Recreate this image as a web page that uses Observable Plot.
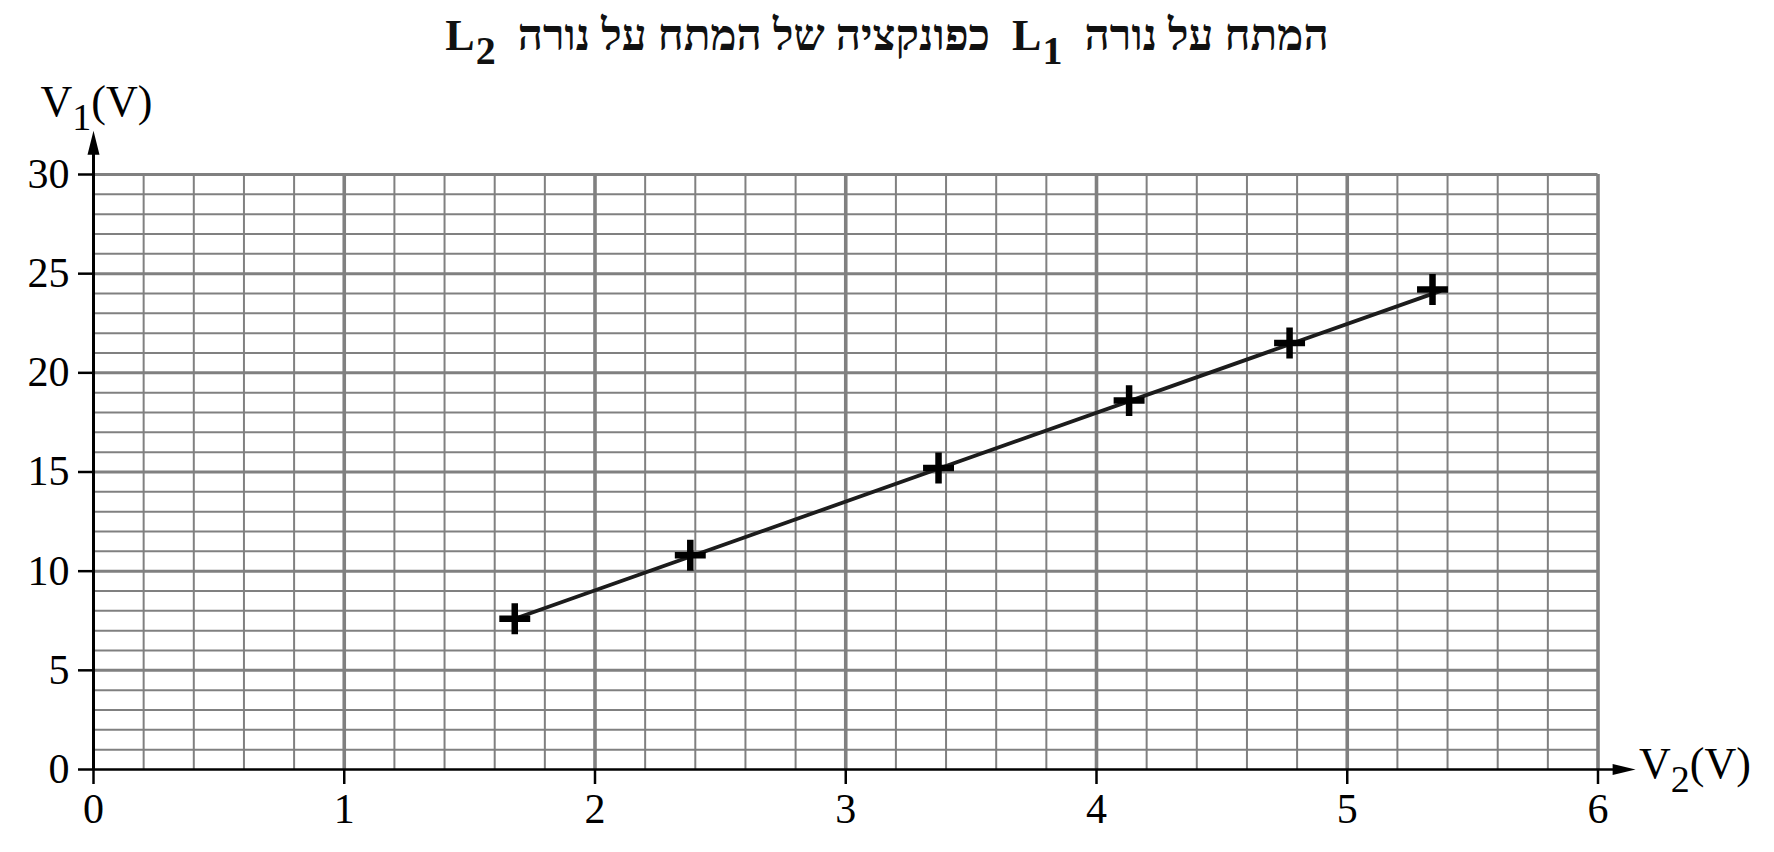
<!DOCTYPE html>
<html>
<head>
<meta charset="utf-8">
<script src="https://cdn.jsdelivr.net/npm/d3@7"></script>
<script src="https://cdn.jsdelivr.net/npm/@observablehq/plot@0.6"></script>
<style>
  html, body { margin: 0; padding: 0; background: #fff; overflow: hidden; }
  #title {
    position: relative; height: 70px; width: 1774px;
    font-family: "Liberation Serif", "DejaVu Serif", serif; font-weight: bold; font-size: 44px;
    color: #111;
  }
  #title div { position: absolute; top: 14px; left: 0; width: 1774px; text-align: center; line-height: 44px; white-space: nowrap; }
  #title .ltr { unicode-bidi: isolate; direction: ltr; }
  #title .sub { display: inline-block; vertical-align: -14px; font-size: 40px; line-height: 40px; margin-left: 1px; }
  #chart svg { display: block; }
</style>
</head>
<body>
<div id="title"><div dir="rtl">המתח על נורה&nbsp; <span class="ltr" dir="ltr">L<span class="sub">1</span></span>&nbsp;&nbsp;כפונקציה של המתח על נורה&nbsp; <span class="ltr" dir="ltr">L<span class="sub">2</span></span></div></div>
<div id="chart"></div>
<script>
// Measured values: voltage on lamp L2 (x) and on lamp L1 (y)
const v2 = [1.68, 2.38, 3.37, 4.13, 4.77, 5.34];
const v1 = [7.6, 10.8, 15.2, 18.6, 21.5, 24.2];
// Drawn best-fit line end points
const fitV2 = [1.68, 5.37];
const fitV1 = [7.6, 24.12];
// Axis ticks
const xTicks = [0, 1, 2, 3, 4, 5, 6];
const yTicks = [0, 5, 10, 15, 20, 25, 30];
const xMinorStep = 0.2;
const yMinorStep = 1;
const xArrowTip = 6.15;
const yArrowTip = 32.2;
const xLabel = "V2(V)";
const yLabel = "V1(V)";

const points = v2.map((x, i) => ({v2: x, v1: v1[i]}));
const fit = fitV2.map((x, i) => ({v2: x, v1: fitV1[i]}));
const xMinor = d3.range(0, 6 + 1e-9, xMinorStep).filter(d => Math.abs(d - Math.round(d)) > 1e-6);
const yMinor = d3.range(0, 30 + 1e-9, yMinorStep).filter(d => d % 5 !== 0);
const xMajor = xTicks.filter(d => d > 0);
const yMajor = yTicks.filter(d => d > 0);

const arrowUp = { draw(ctx) { ctx.moveTo(0, 0); ctx.lineTo(6, 24); ctx.lineTo(-6, 24); ctx.closePath(); } };
const arrowRight = { draw(ctx) { ctx.moveTo(0, 0); ctx.lineTo(-23, 5.5); ctx.lineTo(-23, -5.5); ctx.closePath(); } };

const grid = "#808080";
const chart = Plot.plot({
  width: 1774, height: 782,
  marginLeft: 93, marginRight: 176.5, marginTop: 104, marginBottom: 83,
  x: {domain: [0, 6]},
  y: {domain: [0, 30]},
  style: {fontFamily: "'Liberation Serif', 'DejaVu Serif', serif", background: "white", color: "black"},
  marks: [
    Plot.ruleX(xMinor, {y1: 0, y2: 30, stroke: grid, strokeWidth: 2}),
    Plot.ruleY(yMinor, {x1: 0, x2: 6, stroke: grid, strokeWidth: 2}),
    Plot.ruleX(xMajor, {y1: 0, y2: 30, stroke: grid, strokeWidth: 3.6}),
    Plot.ruleY(yMajor, {x1: 0, x2: 6, stroke: grid, strokeWidth: 3}),
    Plot.ruleX([0], {y1: 0, y2: yArrowTip - 1, stroke: "black", strokeWidth: 3}),
    Plot.ruleY([0], {x1: 0, x2: xArrowTip - 0.05, stroke: "black", strokeWidth: 2.6}),
    Plot.dot([{x: 0, y: yArrowTip}], {x: "x", y: "y", symbol: arrowUp, fill: "black", stroke: null}),
    Plot.dot([{x: xArrowTip, y: 0}], {x: "x", y: "y", symbol: arrowRight, fill: "black", stroke: null}),
    Plot.axisX({ticks: xTicks, tickFormat: d3.format("d"), tickSize: 15, tickPadding: 9, fontSize: 42, stroke: "black", strokeWidth: 2.5, label: null}),
    Plot.axisY({ticks: yTicks, tickFormat: d3.format("d"), tickSize: 15, tickPadding: 9, fontSize: 42, stroke: "black", strokeWidth: 2.5, label: null}),
    Plot.line(fit, {x: "v2", y: "v1", stroke: "#1c1c1c", strokeWidth: 3.8}),
    Plot.dot(points, {x: "v2", y: "v1", symbol: "plus", r: 10, stroke: "black", strokeWidth: 6.5}),
    Plot.text([yLabel], {frameAnchor: "top-left", text: d => d, textAnchor: "start", lineAnchor: "bottom", dx: -53, dy: -59, fontSize: 44}),
    Plot.text([xLabel], {frameAnchor: "bottom-right", text: d => d, textAnchor: "start", lineAnchor: "bottom", dx: 41, dy: 8, fontSize: 44})
  ]
});
document.getElementById("chart").appendChild(chart);

// Render subscripts as real text tspans
d3.select(chart).selectAll("text").each(function() {
  const t = this.textContent;
  if (t === yLabel || t === xLabel) {
    const sel = d3.select(this);
    sel.text(null);
    sel.append("tspan").text(t[0]);
    sel.append("tspan").attr("dy", 14).attr("font-size", 38).text(t[1]);
    sel.append("tspan").attr("dy", -14).text(t.slice(2));
  }
});
</script>
</body>
</html>
